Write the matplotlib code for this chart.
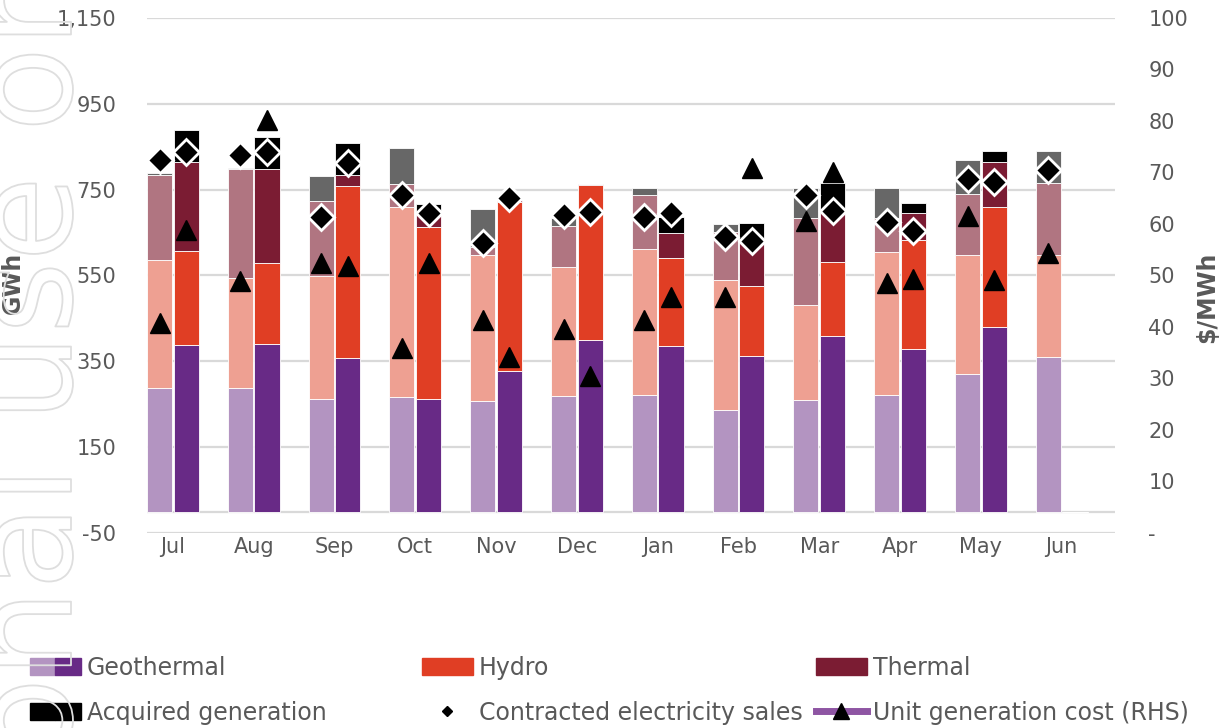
import numpy as np
import matplotlib
matplotlib.use('Agg')
import matplotlib.pyplot as plt
from matplotlib.patches import Patch
from matplotlib.lines import Line2D
from matplotlib.legend_handler import HandlerTuple
import matplotlib.patheffects as pe

nan = np.nan
months = ['Jul', 'Aug', 'Sep', 'Oct', 'Nov', 'Dec', 'Jan', 'Feb', 'Mar', 'Apr', 'May', 'Jun']

# prior year (light bars), GWh
geo_prev = [289, 289, 262, 266, 257, 270, 271, 236, 260, 272, 320, 361]
hydro_prev = [297, 256, 287, 444, 341, 299, 341, 303, 221, 333, 278, 237]
thermal_prev = [199, 253, 175, 53, 19, 96, 125, 113, 202, 78, 143, 168]
acq_prev = [3, 3, 58, 83, 89, 20, 16, 18, 72, 72, 78, 74]

# current year (dark bars), GWh
geo_cur = [388, 391, 358, 263, 327, 399, 386, 362, 410, 379, 429, nan]
hydro_cur = [219, 188, 400, 399, 395, 362, 205, 164, 172, 254, 280, nan]
thermal_cur = [208, 219, 26, 29, 4, 3, 57, 107, 113, 62, 106, nan]
acq_cur = [75, 75, 74, 25, 0, 0, 39, 40, 70, 24, 25, nan]

# contracted electricity sales, GWh
sales_prev = [819, 831, 687, 737, 625, 691, 687, 640, 737, 675, 776, 796]
sales_cur = [837, 838, 813, 695, 730, 699, 696, 631, 700, 654, 767, nan]

# unit generation cost, $/MWh (RHS)
cost_prev = [40.7, 49.0, 52.5, 35.9, 41.4, 39.7, 41.4, 45.9, 60.6, 48.6, 61.6, 54.3]
cost_cur = [58.8, 80.2, 51.8, 52.4, 34.2, 30.4, 45.8, 70.8, 70.0, 49.3, 49.1, nan]

light = {'geo': '#B394C1', 'hydro': '#EEA092', 'thermal': '#B07581', 'acq': '#676767'}
dark = {'geo': '#682A86', 'hydro': '#E03E24', 'thermal': '#7B1C33', 'acq': '#000000'}
txt = '#595959'
grid = '#D9D9D9'

fig = plt.figure(figsize=(12.2, 7.28), dpi=100)
ax = fig.add_axes([147 / 1220, 1 - 533 / 728, 968 / 1220, 515 / 728])
ax2 = ax.twinx()

x = np.arange(len(months))
w = 0.31
off = 0.165


def stack(xpos, parts, cols):
    bottom = np.zeros(len(xpos))
    for vals, c in zip(parts, cols):
        v = np.nan_to_num(np.array(vals, dtype=float))
        ax.bar(xpos, v, w, bottom=bottom, color=c, edgecolor='white', linewidth=0.6, zorder=3)
        bottom = bottom + v


stack(x - off, [geo_prev, hydro_prev, thermal_prev, acq_prev],
      [light['geo'], light['hydro'], light['thermal'], light['acq']])
stack(x + off, [geo_cur, hydro_cur, thermal_cur, acq_cur],
      [dark['geo'], dark['hydro'], dark['thermal'], dark['acq']])

ax.plot(x - off, sales_prev, 'D', color='black', ms=13, mec='white', mew=2, zorder=5)
ax.plot(x + off, sales_cur, 'D', color='black', ms=13, mec='white', mew=2, zorder=5)
ax2.plot(x - off, cost_prev, '^', color='black', ms=14, zorder=5)
ax2.plot(x + off, cost_cur, '^', color='black', ms=14, zorder=5)

ax.set_xlim(-0.32, 11.66)
ax.set_ylim(-50, 1150)
ax.set_yticks(np.arange(-50, 1151, 200))
ax.set_yticklabels(['{:,}'.format(v) for v in range(-50, 1151, 200)])
ax.grid(axis='y', color=grid, linewidth=1.6, zorder=0)
ax.axhline(0, color=grid, linewidth=1.6, zorder=1)
ax.set_xticks(x)
ax.set_xticklabels(months)
ax2.set_ylim(0, 100)
ax2.set_yticks(np.arange(0, 101, 10))
ax2.set_yticklabels(['-'] + [str(v) for v in range(10, 101, 10)])

for a in (ax, ax2):
    for s in a.spines.values():
        s.set_visible(False)
ax.tick_params(axis='y', length=0, pad=22, labelsize=15, labelcolor=txt)
ax.tick_params(axis='x', length=0, pad=3, labelsize=15, labelcolor=txt)
ax2.tick_params(axis='y', length=0, pad=24, labelsize=15, labelcolor=txt)

ax.set_ylabel('GWh', fontsize=17, fontweight='bold', color=txt)
ax.yaxis.set_label_coords(-0.126, 0.485)
ax2.set_ylabel('$/MWh', fontsize=17, fontweight='bold', color=txt, rotation=90)
ax2.yaxis.set_label_coords(1.083, 0.458)

# legends, three columns
leg_kw = dict(loc='upper left', frameon=False, borderpad=0, borderaxespad=0, fontsize=17,
              handlelength=2.15, handletextpad=0.25, labelspacing=0.87,
              labelcolor=txt, handler_map={tuple: HandlerTuple(ndivide=None, pad=0)})
h_geo = (Patch(color=light['geo']), Patch(color=dark['geo']))
h_acq = (Patch(color='black'), Patch(color='black'))
fig.legend([h_geo, h_acq], ['Geothermal', 'Acquired generation'],
           bbox_to_anchor=(30 / 1220, 1 - 656 / 728), **leg_kw)
h_hyd = Patch(color=dark['hydro'])
h_sal = Line2D([], [], ls='none', marker='D', color='black', ms=5)
fig.legend([h_hyd, h_sal], ['Hydro', 'Contracted electricity sales'],
           bbox_to_anchor=(422 / 1220, 1 - 656 / 728), **leg_kw)
h_th = Patch(color=dark['thermal'])
h_cost = Line2D([], [], color='#8E55A3', lw=5, marker='^', mfc='black', mec='black', ms=12)
fig.legend([h_th, h_cost], ['Thermal', 'Unit generation cost (RHS)'],
           bbox_to_anchor=(816 / 1220, 1 - 656 / 728), **leg_kw)

# watermark
fig.text(71 / 1220, 1 - 1327 / 728, 'For personal use only', rotation=90,
         rotation_mode='anchor', ha='left', va='baseline', fontsize=100,
         color=(1, 1, 1, 0), zorder=10,
         path_effects=[pe.withStroke(linewidth=1.3, foreground='#DEDEDE')])

fig.savefig('out.png', dpi=100)
